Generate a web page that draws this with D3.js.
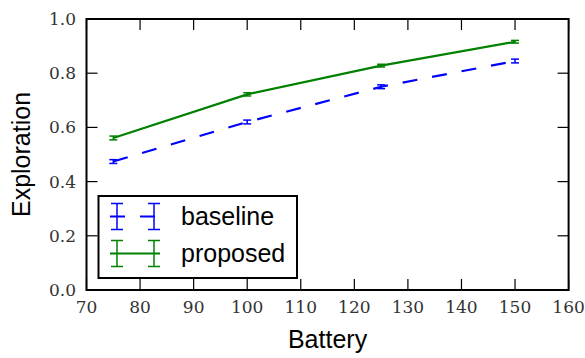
<!DOCTYPE html>
<html><head><meta charset="utf-8">
<script src="https://cdn.jsdelivr.net/npm/d3@7"></script>
<style>body{margin:0;background:#fff}svg{display:block}
.tk{font-family:"DejaVu Serif";font-size:17px;fill:#333}
.sans{font-family:"Liberation Sans",Arial,sans-serif;font-size:25px;fill:#000}
</style>
</head><body>
<script>
const battery = [75, 100, 125, 150];
const baseline = [0.474, 0.620, 0.750, 0.845];
const baselineErr = [0.007, 0.007, 0.007, 0.007];
const proposed = [0.561, 0.722, 0.828, 0.916];
const proposedErr = [0.007, 0.006, 0.005, 0.005];
const xTicks = [70, 80, 90, 100, 110, 120, 130, 140, 150, 160];
const yTicks = [0.0, 0.2, 0.4, 0.6, 0.8, 1.0];
const seriesNames = ["baseline", "proposed"];
const seriesColors = ["#0000ff", "#008000"];

const W = 585, H = 358;
const m = {left: 86.5, right: W - 568.6, top: 19, bottom: H - 290};
const svg = d3.select("body").append("svg").attr("width", W).attr("height", H);
const x = d3.scaleLinear().domain([70, 160]).range([m.left, W - m.right]);
const y = d3.scaleLinear().domain([0, 1]).range([H - m.bottom, m.top]);

const series = [
  {name: seriesNames[0], vals: baseline, err: baselineErr, color: seriesColors[0], dash: "15,15"},
  {name: seriesNames[1], vals: proposed, err: proposedErr, color: seriesColors[1], dash: null}
];
const line = d3.line().x(d => x(d[0])).y(d => y(d[1]));
const capW = 4;
series.forEach(s => {
  const pts = battery.map((b, i) => [b, s.vals[i], s.err[i]]);
  svg.append("path").datum(pts).attr("d", line).attr("fill", "none")
    .attr("stroke", s.color).attr("stroke-width", 2.2)
    .attr("stroke-dasharray", s.dash);
  const g = svg.append("g").attr("stroke", s.color).attr("stroke-width", 1.5);
  pts.forEach(p => {
    g.append("line").attr("x1", x(p[0])).attr("x2", x(p[0])).attr("y1", y(p[1] - p[2])).attr("y2", y(p[1] + p[2]));
    [p[1] - p[2], p[1] + p[2]].forEach(v => {
      g.append("line").attr("x1", x(p[0]) - capW).attr("x2", x(p[0]) + capW).attr("y1", y(v)).attr("y2", y(v));
    });
  });
});

const tl = 11;
const ax = svg.append("g").attr("stroke", "#000").attr("stroke-width", 1.2);
xTicks.forEach(t => {
  ax.append("line").attr("x1", x(t)).attr("x2", x(t)).attr("y1", y(0)).attr("y2", y(0) - tl);
  ax.append("line").attr("x1", x(t)).attr("x2", x(t)).attr("y1", y(1)).attr("y2", y(1) + tl);
});
yTicks.forEach(t => {
  ax.append("line").attr("y1", y(t)).attr("y2", y(t)).attr("x1", x(70)).attr("x2", x(70) + tl);
  ax.append("line").attr("y1", y(t)).attr("y2", y(t)).attr("x1", x(160)).attr("x2", x(160) - tl);
});
svg.append("rect").attr("x", x(70)).attr("y", y(1)).attr("width", x(160) - x(70)).attr("height", y(0) - y(1))
  .attr("fill", "none").attr("stroke", "#000").attr("stroke-width", 2);

svg.append("g").selectAll("text").data(xTicks).join("text").attr("class", "tk")
  .attr("x", d => x(d)).attr("y", 313).attr("text-anchor", "middle").text(d => d);
svg.append("g").selectAll("text").data(yTicks).join("text").attr("class", "tk")
  .attr("x", 76).attr("y", d => y(d) + 6).attr("text-anchor", "end").text(d => d.toFixed(1));

svg.append("text").attr("class", "sans").attr("x", x(115)).attr("y", 348).attr("text-anchor", "middle").text("Battery");
svg.append("text").attr("class", "sans").attr("transform", `translate(30,${(y(0)+y(1))/2}) rotate(-90)`)
  .attr("text-anchor", "middle").text("Exploration");

const lg = svg.append("g");
lg.append("rect").attr("x", 98.5).attr("y", 196).attr("width", 198.5).attr("height", 82)
  .attr("fill", "#fff").attr("stroke", "#000").attr("stroke-width", 2);
series.forEach((s, i) => {
  const cy = 216.5 + i * 37;
  lg.append("line").attr("x1", 110).attr("x2", 160).attr("y1", cy).attr("y2", cy)
    .attr("stroke", s.color).attr("stroke-width", 2.2).attr("stroke-dasharray", s.dash);
  [117, 154].forEach(cx => {
    const gg = lg.append("g").attr("stroke", s.color).attr("stroke-width", 1.5);
    gg.append("line").attr("x1", cx).attr("x2", cx).attr("y1", cy - 13).attr("y2", cy + 13);
    gg.append("line").attr("x1", cx - 6).attr("x2", cx + 6).attr("y1", cy - 13).attr("y2", cy - 13);
    gg.append("line").attr("x1", cx - 6).attr("x2", cx + 6).attr("y1", cy + 13).attr("y2", cy + 13);
  });
  lg.append("text").attr("class", "sans").attr("x", 181).attr("y", cy + 8.5).text(s.name);
});
</script>
</body></html>
